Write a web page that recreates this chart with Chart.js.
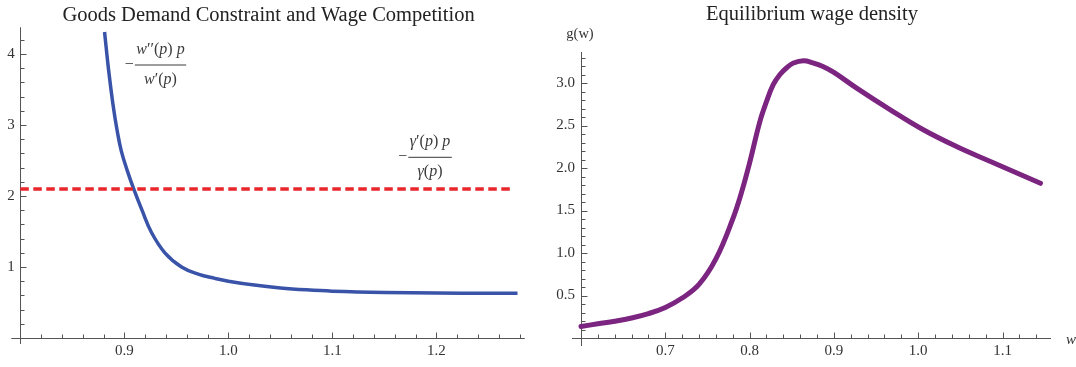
<!DOCTYPE html>
<html lang="en">
<head>
  <meta charset="UTF-8" />
  <title>Goods demand constraint and equilibrium wage density</title>
  <script src="https://cdn.jsdelivr.net/npm/chart.js"></script>
  <style>
    body {
      margin: 0;
      background: #fff;
      width: 1076px;
      height: 367px;
      overflow: hidden;
    }
    canvas {
      position: absolute;
      top: 0;
    }
  </style>
</head>
<body>
  <canvas id="chartLeft" width="540" height="367" style="left:0"></canvas>
  <canvas id="chartRight" width="536" height="367" style="left:540px"></canvas>

  <script>
    // left panel: -w''(p)p / w'(p) as a function of p
    const demandP = [0.881, 0.885, 0.889, 0.893, 0.897, 0.903, 0.909, 0.917, 0.926, 0.939, 0.955,
                     0.971, 0.987, 1.0, 1.025, 1.05, 1.075, 1.1, 1.15, 1.2, 1.25, 1.278];
    const demandElast = [4.31, 3.76, 3.30, 2.93, 2.64, 2.35, 2.10, 1.80, 1.49, 1.20, 1.00,
                         0.90, 0.84, 0.80, 0.745, 0.705, 0.678, 0.66, 0.642, 0.634, 0.63, 0.629];
    // constant -γ'(p)p / γ(p)
    const gammaP = [0.8, 1.2745];
    const gammaElast = [2.10, 2.10];
    const leftXTicks = [0.9, 1.0, 1.1, 1.2];
    const leftYTicks = [1, 2, 3, 4];

    // right panel: equilibrium wage density g(w)
    const wageW = [0.600, 0.620, 0.640, 0.660, 0.680, 0.700, 0.720, 0.740, 0.760, 0.780, 0.790, 0.800,
                   0.812, 0.820, 0.828, 0.836, 0.844, 0.852, 0.864, 0.875, 0.887, 0.900, 0.927,
                   0.966, 1.006, 1.046, 1.085, 1.145];
    const wageG = [0.135, 0.167, 0.197, 0.235, 0.287, 0.36, 0.47, 0.63, 0.93, 1.40, 1.70, 2.06,
                   2.54, 2.78, 2.98, 3.10, 3.18, 3.235, 3.262, 3.238, 3.195, 3.125, 2.94,
                   2.69, 2.45, 2.25, 2.08, 1.82];
    const rightXTicks = [0.7, 0.8, 0.9, 1.0, 1.1];
    const rightYTicks = [0.5, 1.0, 1.5, 2.0, 2.5, 3.0];

    const serif = "'Liberation Serif', 'DejaVu Serif', serif";
    const axisColor = '#555';
    const textColor = '#333';

    // Mathematica-like axes: lines through the origin, ticks pointing inward
    function mathAxes(xMinor, xMajor, yMinor, yMajor, yTail) {
      return {
        id: 'mathAxes',
        beforeDatasetsDraw(chart) {
          const { ctx, chartArea: a, scales: { x, y } } = chart;
          const x0 = Math.round(x.getPixelForValue(x.min)) + 0.5;
          const y0 = Math.round(y.getPixelForValue(0)) + 0.5;
          const isMajor = (v, step) => Math.abs(v / step - Math.round(v / step)) < 1e-6;
          ctx.save();
          ctx.strokeStyle = axisColor;
          ctx.lineWidth = 1;
          ctx.beginPath();
          ctx.moveTo(a.left - 9, y0);
          ctx.lineTo(a.right, y0);
          ctx.moveTo(x0, a.top);
          ctx.lineTo(x0, a.bottom + yTail);
          for (let i = 1; ; i++) {
            const v = x.min + i * xMinor;
            if (v > x.max + 1e-9) break;
            const px = Math.round(x.getPixelForValue(v)) + 0.5;
            ctx.moveTo(px, y0);
            ctx.lineTo(px, y0 - (isMajor(v, xMajor) ? 6 : 4));
          }
          for (let i = 1; ; i++) {
            const v = i * yMinor;
            if (v > y.max + 1e-9) break;
            const py = Math.round(y.getPixelForValue(v)) + 0.5;
            ctx.moveTo(x0, py);
            ctx.lineTo(x0 + (isMajor(v, yMajor) ? 6 : 4), py);
          }
          ctx.stroke();
          ctx.restore();
        }
      };
    }

    // letters italic, brackets/primes upright, as in traditional math layout
    function mathWidth(ctx, str, size) {
      let w = 0;
      for (const ch of str) {
        ctx.font = (/[a-zA-Zγ]/.test(ch) ? 'italic ' : '') + size + 'px ' + serif;
        w += ctx.measureText(ch).width;
      }
      return w;
    }

    function drawMath(ctx, str, cx, baseY, size) {
      let px = cx - mathWidth(ctx, str, size) / 2;
      ctx.textAlign = 'left';
      ctx.textBaseline = 'alphabetic';
      for (const ch of str) {
        ctx.font = (/[a-zA-Zγ]/.test(ch) ? 'italic ' : '') + size + 'px ' + serif;
        ctx.fillText(ch, px, baseY);
        px += ctx.measureText(ch).width;
      }
    }

    function drawFraction(ctx, num, den, cx, barY, size) {
      const bw = Math.max(mathWidth(ctx, num, size), mathWidth(ctx, den, size)) + 3;
      ctx.fillRect(cx - bw / 2, barY - 0.5, bw, 1);
      drawMath(ctx, num, cx, barY - 11.5, size);
      drawMath(ctx, den, cx, barY + 18.5, size);
      ctx.font = size + 'px ' + serif;
      ctx.textAlign = 'right';
      ctx.fillText('−', cx - bw / 2 - 1, barY + 4);
    }

    function titleText(text, baseY) {
      return {
        id: 'titleText',
        afterDraw(chart) {
          const { ctx, chartArea: a } = chart;
          ctx.save();
          ctx.fillStyle = '#222';
          ctx.font = '20.5px ' + serif;
          ctx.textAlign = 'center';
          ctx.textBaseline = 'alphabetic';
          ctx.fillText(text, (a.left + a.right) / 2 - 4, baseY);
          ctx.restore();
        }
      };
    }

    function tickFont() {
      return { family: serif, size: 15 };
    }

    function baseOptions() {
      return {
        responsive: false,
        animation: false,
        plugins: { legend: { display: false }, tooltip: { enabled: false } },
        elements: { point: { radius: 0 } }
      };
    }

    // ---------- left panel ----------
    const leftOpts = baseOptions();
    leftOpts.layout = { padding: { left: 0, top: 27.3, right: 15.2, bottom: 0 } };
    leftOpts.scales = {
      x: {
        type: 'linear', min: 0.8, max: 1.285,
        grid: { display: false, drawTicks: false }, border: { display: false },
        afterBuildTicks: s => { s.ticks = leftXTicks.map(v => ({ value: v })); },
        afterFit: s => { s.height = 29; },
        ticks: { autoSkip: false, maxRotation: 0, padding: 4, color: textColor, font: tickFont(),
                 callback: v => v.toFixed(1) }
      },
      y: {
        type: 'linear', min: 0, max: 4.376,
        grid: { display: false, drawTicks: false }, border: { display: false },
        afterBuildTicks: s => { s.ticks = leftYTicks.map(v => ({ value: v })); },
        afterFit: s => { s.width = 20.3; },
        ticks: { autoSkip: false, padding: 5.5, color: textColor, font: tickFont(),
                 callback: v => String(v) }
      }
    };

    new Chart(document.getElementById('chartLeft'), {
      type: 'line',
      data: {
        datasets: [
          {
            data: gammaP.map((p, i) => ({ x: p, y: gammaElast[i] })),
            borderColor: '#e8262b',
            borderWidth: 3.5,
            borderDash: [8.5, 4.5],
            borderCapStyle: 'butt',
            clip: false
          },
          {
            data: demandP.map((p, i) => ({ x: p, y: demandElast[i] })),
            borderColor: '#3853a8',
            borderWidth: 3.5,
            tension: 0.4,
            clip: false
          }
        ]
      },
      options: leftOpts,
      plugins: [
        mathAxes(0.02, 0.1, 0.2, 1, 6),
        titleText('Goods Demand Constraint and Wage Competition', 21),
        {
          id: 'fractions',
          afterDraw(chart) {
            const { ctx, scales: { x, y } } = chart;
            ctx.save();
            ctx.fillStyle = '#3a3a3a';
            drawFraction(ctx, 'w′′(p) p', 'w′(p)', x.getPixelForValue(0.9348), y.getPixelForValue(3.845), 16);
            drawFraction(ctx, 'γ′(p) p', 'γ(p)', x.getPixelForValue(1.1939), y.getPixelForValue(2.545), 16);
            ctx.restore();
          }
        }
      ]
    });

    // ---------- right panel ----------
    const rightOpts = baseOptions();
    rightOpts.layout = { padding: { left: 0, top: 52, right: 25, bottom: 0 } };
    rightOpts.scales = {
      x: {
        type: 'linear', min: 0.6, max: 1.1575,
        grid: { display: false, drawTicks: false }, border: { display: false },
        afterBuildTicks: s => { s.ticks = rightXTicks.map(v => ({ value: v })); },
        afterFit: s => { s.height = 29; },
        ticks: { autoSkip: false, maxRotation: 0, padding: 4, color: textColor, font: tickFont(),
                 callback: v => v.toFixed(1) }
      },
      y: {
        type: 'linear', min: 0, max: 3.365,
        grid: { display: false, drawTicks: false }, border: { display: false },
        afterBuildTicks: s => { s.ticks = rightYTicks.map(v => ({ value: v })); },
        afterFit: s => { s.width = 41; },
        ticks: { autoSkip: false, padding: 6, color: textColor, font: tickFont(),
                 callback: v => v.toFixed(1) }
      }
    };

    new Chart(document.getElementById('chartRight'), {
      type: 'line',
      data: {
        datasets: [{
          data: wageW.map((w, i) => ({ x: w, y: wageG[i] })),
          borderColor: '#7b2480',
          borderWidth: 5,
          borderCapStyle: 'round',
          borderJoinStyle: 'round',
          tension: 0.4,
          clip: false
        }]
      },
      options: rightOpts,
      plugins: [
        mathAxes(0.02, 0.1, 0.1, 0.5, 8),
        titleText('Equilibrium wage density', 20),
        {
          id: 'axisNames',
          afterDraw(chart) {
            const { ctx, chartArea: a, scales: { x, y } } = chart;
            ctx.save();
            ctx.fillStyle = textColor;
            ctx.textBaseline = 'alphabetic';
            ctx.textAlign = 'center';
            ctx.font = '14.5px ' + serif;
            ctx.fillText('g(w)', x.getPixelForValue(0.6) - 1, a.top - 14);
            ctx.textAlign = 'left';
            ctx.font = 'italic 15px ' + serif;
            ctx.fillText('w', a.right + 15, y.getPixelForValue(0) + 6);
            ctx.restore();
          }
        }
      ]
    });
  </script>
</body>
</html>
